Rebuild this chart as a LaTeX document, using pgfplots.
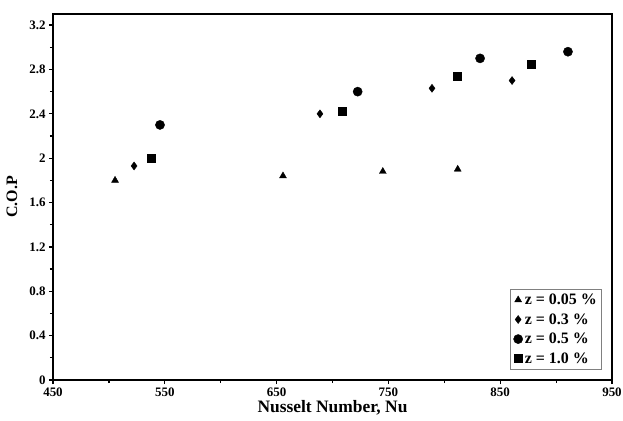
\documentclass[border=0pt]{standalone}
\usepackage{pgfplots}
\pgfplotsset{compat=1.18}
\usepackage{fontspec}
\setmainfont{Liberation Serif}
\begin{document}
\begin{tikzpicture}
\useasboundingbox (-53bp,-41bp) rectangle (570bp,380bp);
\begin{axis}[
  scale only axis,
  width=559bp, height=366bp,
  xmin=450, xmax=950, ymin=0, ymax=3.3,
  xtick={450,550,...,950},
  ytick={0,0.4,...,3.2},
  minor tick num=1,
  tick align=outside,
  xtick pos=bottom, ytick pos=left,
  major tick length=4bp, minor tick length=3bp,
  every tick/.style={black, line width=1.2bp},
  axis line style={line width=1.6bp},
  /pgf/number format/assume math mode=true,
  ticklabel style={font=\fontsize{13}{15}\selectfont\bfseries},
  yticklabel style={/pgf/number format/fixed},
  scaled ticks=false,
  xlabel={Nusselt Number, Nu},
  ylabel={C.O.P},
  xlabel style={font=\fontsize{17.5}{19}\selectfont\bfseries, yshift=3bp},
  ylabel style={font=\fontsize{16}{18}\selectfont\bfseries, yshift=5bp},
  legend cell align=left,
  legend style={at={(rel axis cs:1,0)}, anchor=south east, xshift=-10bp, yshift=10bp,
    draw=gray, line width=0.6bp, font=\fontsize{16}{18}\selectfont\bfseries,
    row sep=3.5bp, inner sep=3bp},
  legend image post style={line width=0.4bp},
]
\addplot[only marks, mark=triangle*, mark size=4bp, black] coordinates {
  (505.5,1.80) (655.7,1.84) (745,1.88) (812,1.90)};
\addlegendentry{z = 0.05 \%}
\addplot[only marks, mark=diamond*, mark size=4bp, black] coordinates {
  (522.5,1.93) (688.8,2.40) (789,2.63) (860.6,2.70)};
\addlegendentry{z = 0.3 \%}
\addplot[only marks, mark=*, mark size=4.6bp, black] coordinates {
  (545.7,2.30) (722.5,2.60) (832,2.90) (910.6,2.96)};
\addlegendentry{z = 0.5 \%}
\addplot[only marks, mark=square*, mark size=4bp, black] coordinates {
  (537.7,2.00) (708.8,2.42) (811.6,2.74) (877.6,2.85)};
\addlegendentry{z = 1.0 \%}
\end{axis}
\end{tikzpicture}
\end{document}
